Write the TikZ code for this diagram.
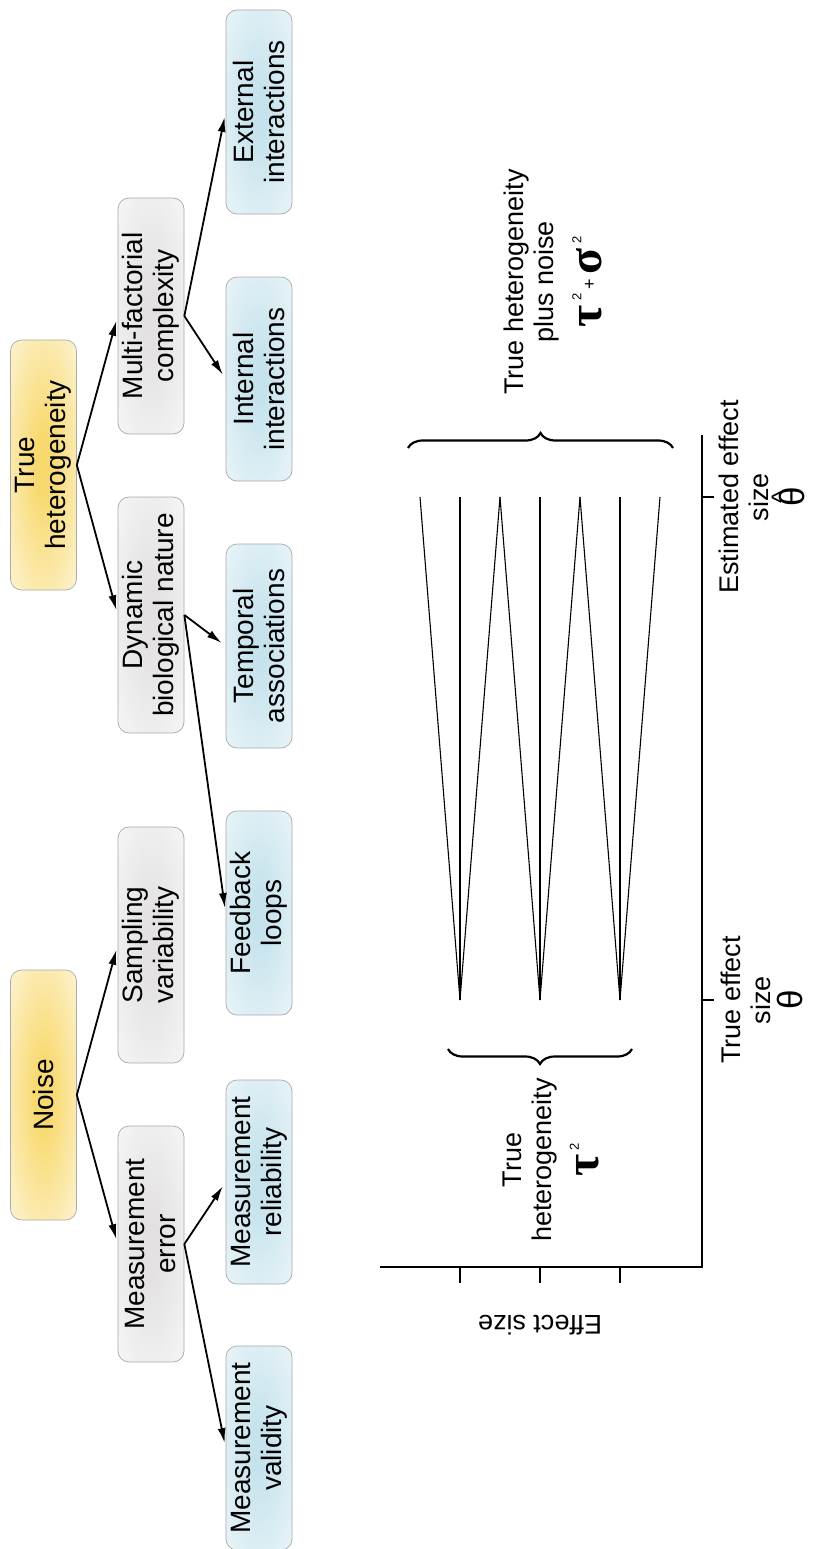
\documentclass[tikz,border=0pt]{standalone}
\usepackage{fontspec}
\setmainfont{Liberation Sans}
\newfontfamily\greekfont{Liberation Serif}
\usetikzlibrary{arrows.meta,decorations.pathreplacing}

\definecolor{causeIn}{HTML}{F8D96F}
\definecolor{causeOut}{HTML}{FEF9E6}
\definecolor{factorIn}{HTML}{E3E1E2}
\definecolor{factorOut}{HTML}{FAFAFA}
\definecolor{sourceIn}{HTML}{C6E3ED}
\definecolor{sourceOut}{HTML}{F1F8FA}
\definecolor{rim}{HTML}{A9A9A9}

% soft glows for the boxes, strongest in the middle
\pgfdeclareradialshading{causeglow}{\pgfpoint{0bp}{0bp}}{color(0bp)=(causeIn); color(6bp)=(causeIn); color(42bp)=(causeOut); color(50bp)=(causeOut)}
\pgfdeclareradialshading{factorglow}{\pgfpoint{0bp}{0bp}}{color(0bp)=(factorIn); color(6bp)=(factorIn); color(42bp)=(factorOut); color(50bp)=(factorOut)}
\pgfdeclareradialshading{sourceglow}{\pgfpoint{0bp}{0bp}}{color(0bp)=(sourceIn); color(6bp)=(sourceIn); color(42bp)=(sourceOut); color(50bp)=(sourceOut)}

% small raised "2" used after the Greek letters
\newcommand{\suptwo}{\,\raisebox{20pt}{\fontsize{13}{13}\selectfont 2}}
\newcommand{\grk}[1]{{\greekfont\bfseries\fontsize{48}{48}\selectfont #1}}
\newcommand{\thetasym}{{\fontsize{35}{35}\selectfont θ}}
\newlength{\thetawd}
\newcommand{\thetahatsym}{{\fontsize{35}{35}\selectfont\settowidth{\thetawd}{θ}%
  \makebox[0pt][l]{\makebox[\thetawd][c]{\raisebox{15pt}{\fontsize{26}{26}\selectfont\textasciicircum}}}θ}}

\begin{document}
\begin{tikzpicture}[x=1pt,y=-1pt,
  box/.style={draw=rim, line width=0.7pt, rounded corners=11pt, rotate=90,
    minimum height=66pt, inner sep=0pt, align=center,
    font=\fontsize{28}{31}\selectfont, text=black},
  cause/.style={box, minimum width=250pt, shading=causeglow},
  factor/.style={box, minimum width=236pt, shading=factorglow},
  source/.style={box, minimum width=204pt, shading=sourceglow},
  link/.style={-{Latex[length=15pt,width=8pt]}, line width=1.8pt, shorten >=5pt},
  axisline/.style={line width=1.9pt},
  spine/.style={line width=1.8pt},
  spread/.style={line width=1.1pt},
  curly/.style={decorate, decoration={brace, amplitude=15pt}, line width=2.2pt},
  lbl/.style={align=center, inner sep=0pt, font=\fontsize{27}{30}\selectfont}
]
\useasboundingbox (0,0) rectangle (812,1549);

% ---- hierarchy of sources of variation ----
\node[cause]  (noise) at (43.5,1095) {Noise};
\node[cause]  (true)  at (43.5,465)  {True\\heterogeneity};
\node[factor] (merr)  at (151,1244)  {Measurement\\error};
\node[factor] (samp)  at (151,945)   {Sampling\\variability};
\node[factor] (dyn)   at (151,615)   {Dynamic\\biological nature};
\node[factor] (multi) at (151,316)   {Multi-factorial\\complexity};
\node[source] (mval)  at (259,1448)  {Measurement\\validity};
\node[source] (mrel)  at (259,1182)  {Measurement\\reliability};
\node[source] (feed)  at (259,913)   {Feedback\\loops};
\node[source] (temp)  at (259,646)   {Temporal\\associations};
\node[source] (intr)  at (259,379)   {Internal\\interactions};
\node[source] (extr)  at (259,112)   {External\\interactions};

\draw[link] (noise.south) -- (samp.north);
\draw[link] (noise.south) -- (merr.north);
\draw[link] (merr.south)  -- (mrel.north);
\draw[link] (merr.south)  -- (mval.north);
\draw[link] (true.south)  -- (multi.north);
\draw[link] (true.south)  -- (dyn.north);
\draw[link] (dyn.south)   -- (temp.north);
\draw[link] (dyn.south)   -- (feed.north);
\draw[link] (multi.south) -- (extr.north);
\draw[link] (multi.south) -- (intr.north);

% ---- effect size plot ----
\coordinate (origin) at (702,1267);
\coordinate (xend)   at (380,1267);
\coordinate (yend)   at (702,435);
\draw[axisline] (xend) -- (origin) -- (yend);

% ticks on the effect-size axis
\foreach \t [count=\i] in {460,540,620}{
  \coordinate (ea\i) at (\t,1267);
  \coordinate (eb\i) at (\t,1283);
  \draw[axisline] (ea\i) -- (eb\i);
}
% ticks for true and estimated effect
\coordinate (tt1) at (702,1000); \coordinate (tt2) at (714,1000);
\coordinate (et1) at (702,497);  \coordinate (et2) at (714,497);
\draw[axisline] (tt1) -- (tt2);
\draw[axisline] (et1) -- (et2);

% true effects fanning out to estimates
\foreach \c [count=\i] in {460,540,620}{
  \coordinate (tr\i) at (\c,1000);
  \coordinate (em\i) at (\c,497);
  \coordinate (el\i) at ({\c-40},497);
  \coordinate (er\i) at ({\c+40},497);
  \draw[spine]  (tr\i) -- (em\i);
  \draw[spread] (tr\i) -- (el\i);
  \draw[spread] (tr\i) -- (er\i);
}

% braces
\coordinate (ba) at (408,448); \coordinate (bb) at (673,448);
\draw[curly] (ba) -- (bb);
\coordinate (bc) at (632,1049); \coordinate (bd) at (448,1049);
\draw[curly] (bc) -- (bd);

% labels
\node[lbl, rotate=90] (lowlab) at (551,1160)
  {True\\heterogeneity\\[12pt]\grk{τ}\suptwo};
\node[lbl, rotate=90] (highlab) at (553,282)
  {True heterogeneity\\plus noise\\[12pt]\grk{τ}\suptwo\,\raisebox{6pt}{\fontsize{18}{18}\selectfont +}\,\grk{σ}\suptwo};
\node[lbl, rotate=90] (truelab) at (762,1000)
  {True effect\\size\\[2pt]\thetasym};
\node[lbl, rotate=90] (estlab) at (762,497)
  {Estimated effect\\size\\[2pt]\thetahatsym};
\node[lbl, rotate=180] (ylab) at (540,1325) {Effect size};

\end{tikzpicture}
\end{document}
